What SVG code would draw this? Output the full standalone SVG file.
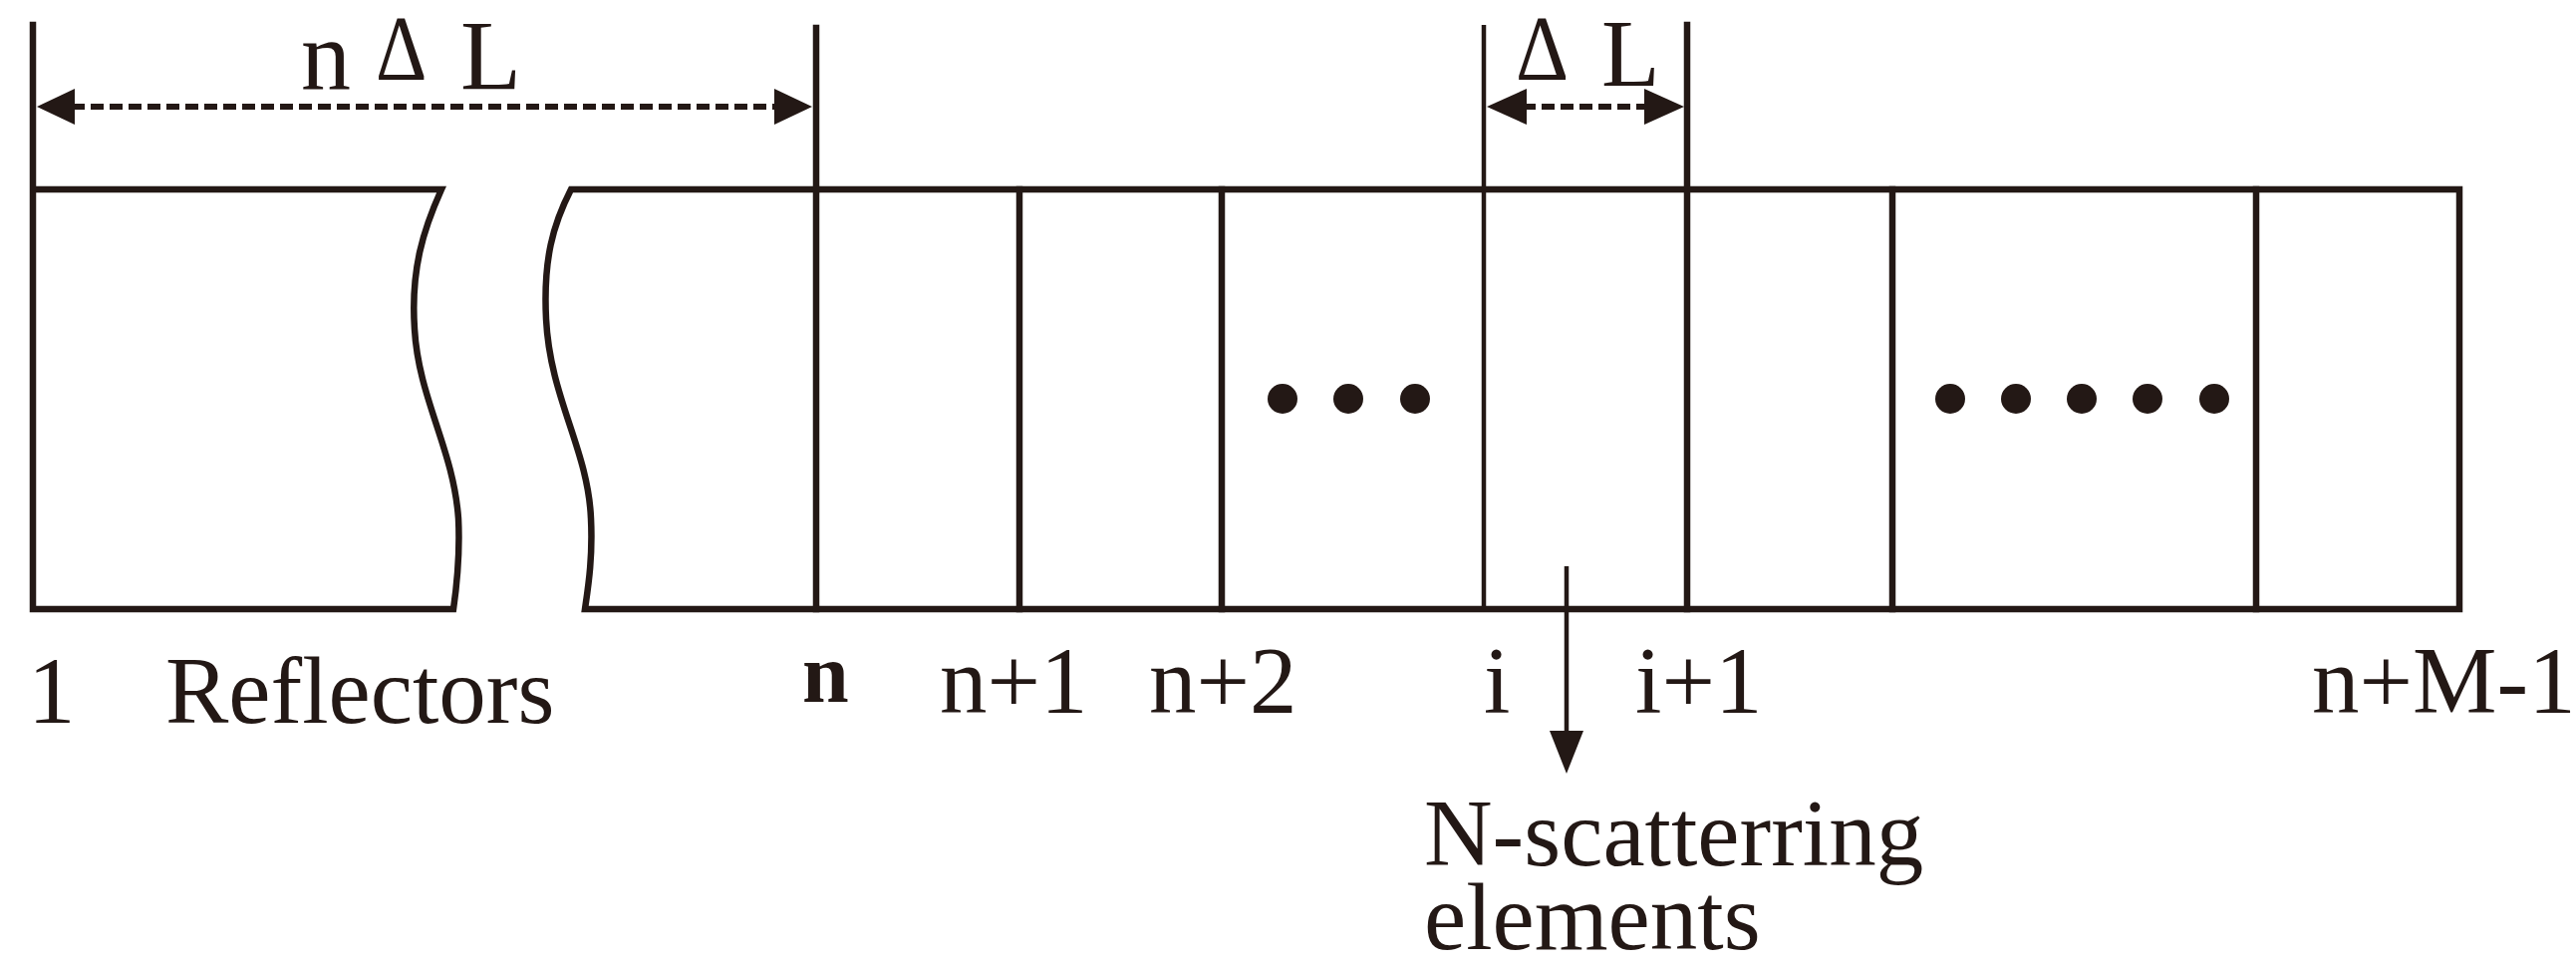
<svg xmlns="http://www.w3.org/2000/svg" width="2585" height="971" viewBox="0 0 2585 971">
<defs>
<style>
.ln{stroke:#231815;stroke-width:6.5;fill:none;stroke-linecap:square}
.thin{stroke:#231815;stroke-width:4.5;fill:none}
.dash{stroke:#231815;stroke-width:6;fill:none;stroke-dasharray:13 6}
.t{font-family:"Liberation Serif","Times New Roman",serif;fill:#231815;font-size:95px}
.dot{fill:#231815}
.ah{fill:#231815}
</style>
</defs>
<rect width="2585" height="971" fill="#ffffff"/>
<g id="reflectors">
<path class="ln" d="M33,25 V611 H455 C458,590 462,560 460,520 C455,450 420,400 416,330 C412,270 425,230 443,190 H33"/>
<path class="ln" d="M819,190 H573 C555,225 545,260 548,320 C552,400 590,450 593,520 C595,560 590,590 587,611 H819"/>
</g>
<g id="elements">
<path class="ln" d="M819,28 V611 H2468 V190 H819"/>
<line class="ln" x1="1023" y1="190" x2="1023" y2="611"/>
<line class="ln" x1="1226" y1="190" x2="1226" y2="611"/>
<line class="thin" x1="1489" y1="25" x2="1489" y2="611"/>
<line class="ln" x1="1693" y1="25" x2="1693" y2="611"/>
<line class="ln" x1="1899" y1="190" x2="1899" y2="611"/>
<line class="ln" x1="2264" y1="190" x2="2264" y2="611"/>
<circle class="dot" cx="1287" cy="400" r="15"/>
<circle class="dot" cx="1353" cy="400" r="15"/>
<circle class="dot" cx="1420" cy="400" r="15"/>
<circle class="dot" cx="1957" cy="400" r="15"/>
<circle class="dot" cx="2023" cy="400" r="15"/>
<circle class="dot" cx="2089" cy="400" r="15"/>
<circle class="dot" cx="2155" cy="400" r="15"/>
<circle class="dot" cx="2222" cy="400" r="15"/>
</g>
<g id="connectors">
<line class="dash" x1="72" y1="107" x2="778" y2="107"/>
<polygon class="ah" points="37,107 75,89 75,125"/>
<polygon class="ah" points="815,107 777,89 777,125"/>
<line class="dash" x1="1528" y1="107" x2="1655" y2="107"/>
<polygon class="ah" points="1492,107 1532,89 1532,125"/>
<polygon class="ah" points="1690,107 1650,89 1650,125"/>
<line class="thin" x1="1572" y1="568" x2="1572" y2="740"/>
<polygon class="ah" points="1572,776 1555,733 1589,733"/>
</g>
<g id="labels">
<text class="t" x="302" y="89" style="font-size:100px">n</text>
<text class="t" transform="translate(377,80) scale(0.85,1)" style="font-size:94px">Δ</text>
<text class="t" x="462" y="89" style="font-size:100px">L</text>
<text class="t" transform="translate(1521,80) scale(0.88,1)" style="font-size:94px">Δ</text>
<text class="t" x="1607" y="86" style="font-size:96px">L</text>
<text class="t" x="28" y="725">1</text>
<text class="t" x="166" y="725">Reflectors</text>
<text class="t" x="805" y="704" style="font-size:84px;font-weight:bold">n</text>
<text class="t" x="943" y="715">n+1</text>
<text class="t" x="1153" y="715">n+2</text>
<text class="t" x="1489" y="715">i</text>
<text class="t" x="1641" y="715">i+1</text>
<text class="t" x="2320" y="715">n+M-1</text>
<text class="t" x="1429" y="868">N-scatterring</text>
<text class="t" x="1429" y="952">elements</text>
</g>
</svg>
